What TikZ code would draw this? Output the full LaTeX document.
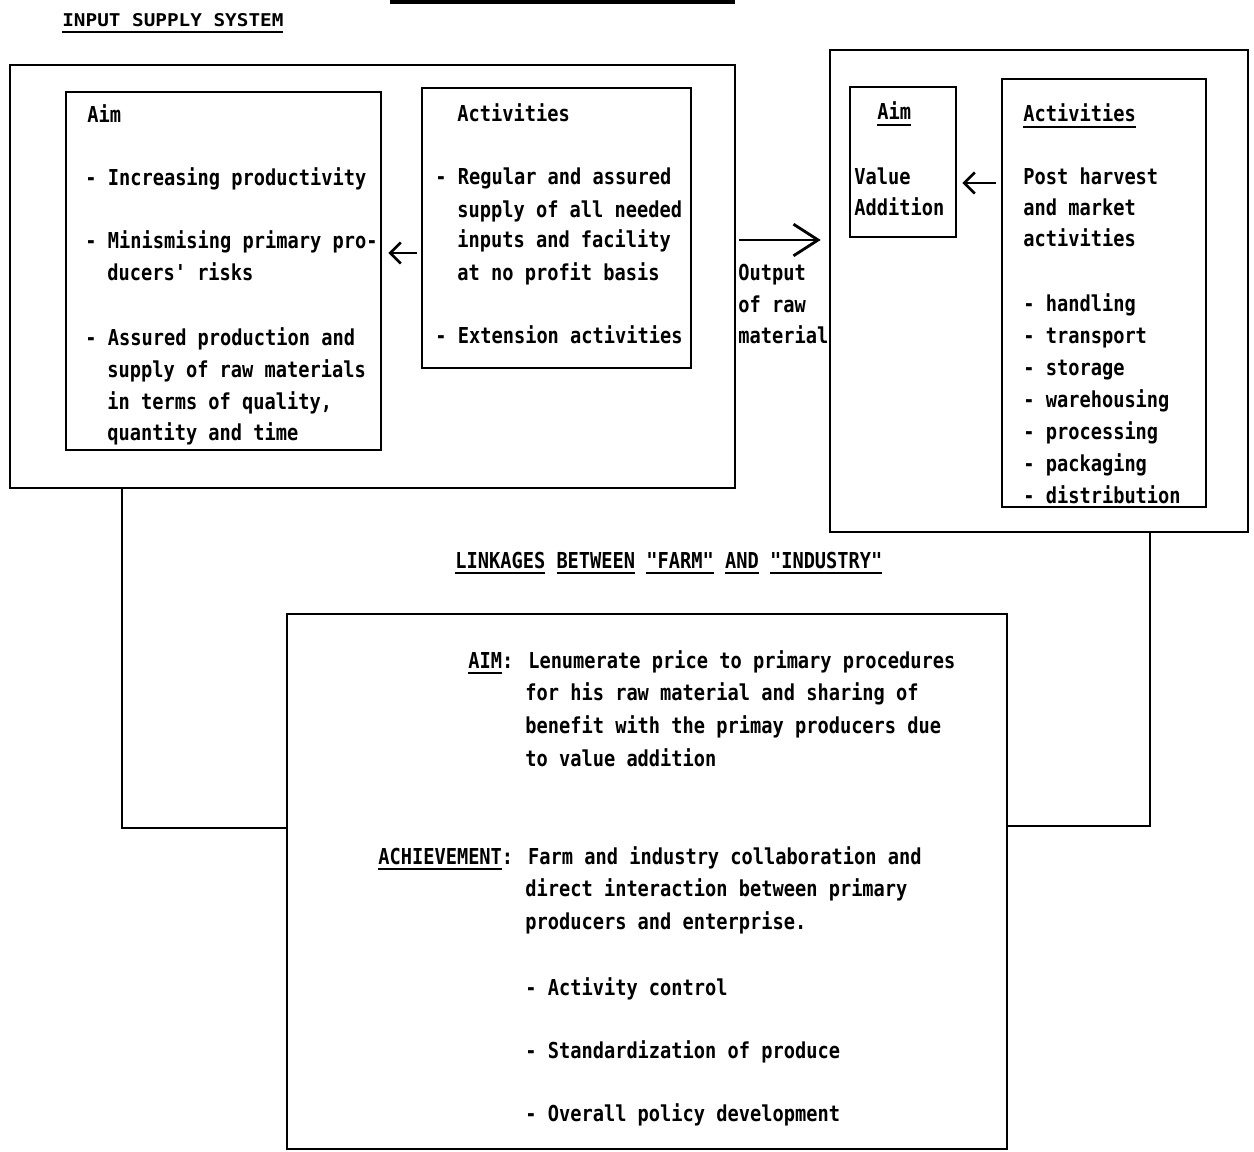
\documentclass[tikz,border=0pt]{standalone}
\usepackage{fontspec}
\usetikzlibrary{arrows.meta,fit}
\newfontfamily\dm{DejaVu Sans Mono}[FakeStretch=0.85]
\newfontfamily\dmt{DejaVu Sans Mono}[FakeStretch=1.1]
\newcommand\ulx[1]{\setbox0\hbox{#1}\rlap{\rule[-3.5pt]{\wd0}{1.1pt}}\box0\relax}
\newcommand\tline[3]{\node[tx] (#1) at (#2) {#3};}
\begin{document}
\begin{tikzpicture}[x=0.02cm,y=-0.02cm,
 box/.style={draw,line width=1.5pt,inner sep=0pt},
 tx/.style={anchor=base west,inner sep=0pt,font=\dm\bfseries\fontsize{12.5pt}{15pt}\selectfont},
 ttl/.style={anchor=base west,inner sep=0pt,font=\dmt\bfseries\fontsize{10pt}{12pt}\selectfont},
 conn/.style={line width=1.5pt},
 sarr/.style={line width=1.5pt,-{Straight Barb[length=6pt,width=12pt]}},
 barr/.style={line width=1.6pt,-{Straight Barb[length=14pt,width=18pt]}}]
\useasboundingbox (0,0) rectangle (1254,1152);

% cut-off rule at the top
\draw[line width=3pt] (390,1.5) -- (735,1.5);

% title
\node[ttl] (t0) at (62,27) {\ulx{INPUT SUPPLY SYSTEM}};

% boxes
\node[box,fit={(10,65)(735,488)}] (LO) {};
\node[box,fit={(66,92)(381,450)}] (LAim) {};
\node[box,fit={(422,88)(691,368)}] (LAct) {};
\node[box,fit={(830,50)(1248,532)}] (RO) {};
\node[box,fit={(850,87)(956,237)}] (RAim) {};
\node[box,fit={(1002,79)(1206,507)}] (RAct) {};
\node[box,fit={(287,614)(1007,1149)}] (BB) {};

% left aim
\tline{la0}{87,123}{Aim}
\tline{la1}{85,186}{- Increasing productivity}
\tline{la2}{85,249}{- Minismising primary pro-}
\tline{la3}{107,280}{ducers' risks}
\tline{la4}{85,345}{- Assured production and}
\tline{la5}{107,377}{supply of raw materials}
\tline{la6}{107,409}{in terms of quality,}
\tline{la7}{107,440}{quantity and time}

% left activities
\tline{lb0}{457,122}{Activities}
\tline{lb1}{435,185}{- Regular and assured}
\tline{lb2}{457,217}{supply of all needed}
\tline{lb3}{457,248}{inputs and facility}
\tline{lb4}{457,280}{at no profit basis}
\tline{lb5}{435,343}{- Extension activities}

% output label
\tline{o1}{738,280}{Output}
\tline{o2}{738,312}{of raw}
\tline{o3}{738,343}{material}

% right aim
\tline{ra0}{877,120}{\ulx{Aim}}
\tline{ra1}{854,185}{Value}
\tline{ra2}{854,215}{Addition}

% right activities
\tline{rb0}{1023,122}{\ulx{Activities}}
\tline{rb1}{1023,185}{Post harvest}
\tline{rb2}{1023,215}{and market}
\tline{rb3}{1023,247}{activities}
\tline{rb4}{1023,311}{- handling}
\tline{rb5}{1023,343}{- transport}
\tline{rb6}{1023,375}{- storage}
\tline{rb7}{1023,407}{- warehousing}
\tline{rb8}{1023,439}{- processing}
\tline{rb9}{1023,471}{- packaging}
\tline{rb10}{1023,503}{- distribution}

% linkages title
\tline{lk}{455,568}{\ulx{LINKAGES} \ulx{BETWEEN} \ulx{"FARM"} \ulx{AND} \ulx{"INDUSTRY"}}

% bottom box text
\tline{b1}{468,668}{\ulx{AIM}: Lenumerate price to primary procedures}
\tline{b2}{525,700}{for his raw material and sharing of}
\tline{b3}{525,733}{benefit with the primay producers due}
\tline{b4}{525,766}{to value addition}
\tline{b5}{378,864}{\ulx{ACHIEVEMENT}: Farm and industry collaboration and}
\tline{b6}{525,896}{direct interaction between primary}
\tline{b7}{525,929}{producers and enterprise.}
\tline{b8}{525,995}{- Activity control}
\tline{b9}{525,1058}{- Standardization of produce}
\tline{b10}{525,1121}{- Overall policy development}

% arrows
\coordinate (ya) at (0,253);
\draw[sarr,shorten <=0.08cm,shorten >=0.12cm] (LAct.west |- ya) -- (LAim.east |- ya);
\coordinate (yb) at (0,240);
\draw[barr,shorten <=0.06cm,shorten >=0.16cm] (LO.east |- yb) -- (RO.west |- yb);
\coordinate (yc) at (0,183);
\draw[sarr,shorten <=0.1cm,shorten >=0.1cm] (RAct.west |- yc) -- (RAim.east |- yc);

% connectors
\coordinate (cl) at (122,828);
\draw[conn] (LO.south -| cl) |- (BB.west |- cl);
\coordinate (cr) at (1150,826);
\draw[conn] (RO.south -| cr) |- (BB.east |- cr);
\end{tikzpicture}
\end{document}
